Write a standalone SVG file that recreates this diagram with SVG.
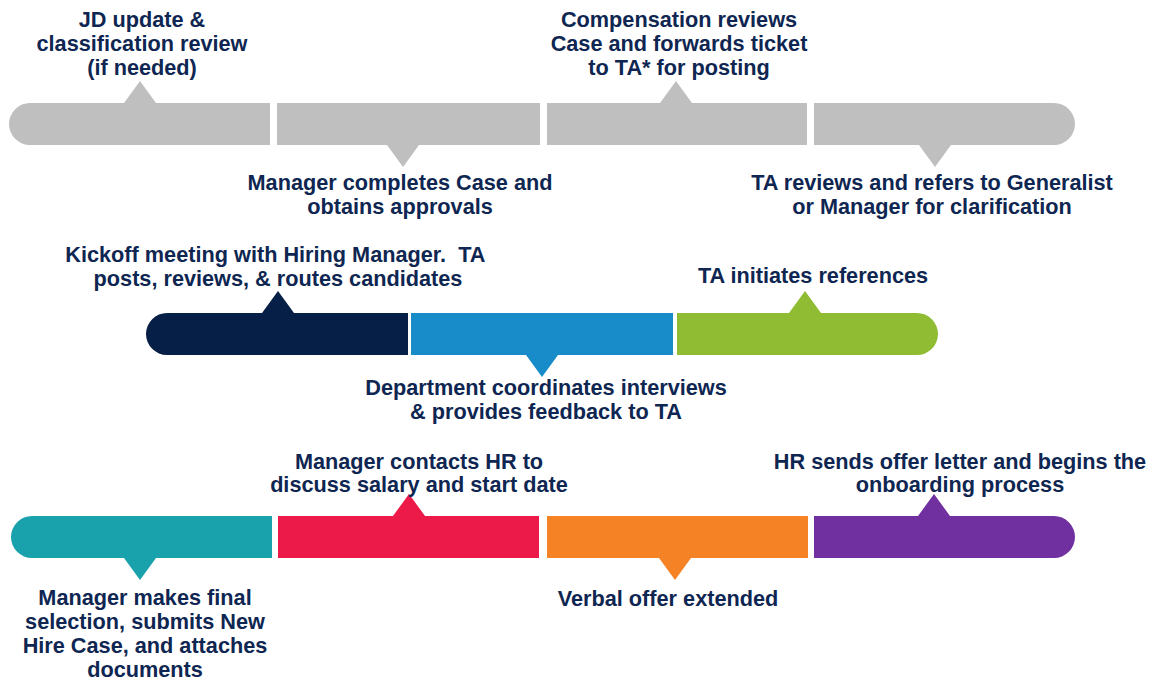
<svg xmlns="http://www.w3.org/2000/svg" width="1156" height="681" viewBox="0 0 1156 681">
  <style>
    .lbl { font-family: "Liberation Sans", Arial, sans-serif; font-weight: bold; font-size: 21.7px; fill: #0E2651; text-anchor: middle; white-space: pre; }
    .gray { fill: #BFBFBF; }
    .navy { fill: #061F46; }
    .blue { fill: #188CC9; }
    .green { fill: #8FBC32; }
    .teal { fill: #1AA2AC; }
    .red { fill: #EC1A48; }
    .orange { fill: #F58225; }
    .purple { fill: #7030A0; }
  </style>
  <rect width="1156" height="681" fill="#FFFFFF"/>

  <!-- Row 1: case preparation -->
  <g id="step-jd-update">
    <path class="gray" d="M30,103 H124 L140,81 L156,103 H270 V145 H30 A21,21 0 0 1 30,103 Z"/>
    <text class="lbl" x="142" y="27">JD update &amp;</text>
    <text class="lbl" x="142" y="51">classification review</text>
    <text class="lbl" x="142" y="75">(if needed)</text>
  </g>
  <g id="step-manager-case">
    <path class="gray" d="M277,103 H540 V145 H419 L403,167 L387,145 H277 Z"/>
    <text class="lbl" x="400" y="190">Manager completes Case and</text>
    <text class="lbl" x="400" y="214">obtains approvals</text>
  </g>
  <g id="step-compensation">
    <path class="gray" d="M547,103 H660 L676,81 L692,103 H807 V145 H547 Z"/>
    <text class="lbl" x="679" y="27">Compensation reviews</text>
    <text class="lbl" x="679" y="51">Case and forwards ticket</text>
    <text class="lbl" x="679" y="75">to TA* for posting</text>
  </g>
  <g id="step-ta-review">
    <path class="gray" d="M814,103 H1054 A21,21 0 0 1 1054,145 H951 L935,167 L919,145 H814 Z"/>
    <text class="lbl" x="932" y="190">TA reviews and refers to Generalist</text>
    <text class="lbl" x="932" y="214">or Manager for clarification</text>
  </g>

  <!-- Row 2: recruiting -->
  <g id="step-kickoff">
    <path class="navy" d="M167,313 H262 L278,291 L294,313 H408 V355 H167 A21,21 0 0 1 167,313 Z"/>
    <text class="lbl" x="278" y="262" xml:space="preserve">Kickoff meeting with Hiring Manager.  TA </text>
    <text class="lbl" x="278" y="286">posts, reviews, &amp; routes candidates</text>
  </g>
  <g id="step-interviews">
    <path class="blue" d="M411,313 H673 V355 H558 L542,377 L526,355 H411 Z"/>
    <text class="lbl" x="546" y="395">Department coordinates interviews</text>
    <text class="lbl" x="546" y="419">&amp; provides feedback to TA</text>
  </g>
  <g id="step-references">
    <path class="green" d="M677,313 H789 L805,291 L821,313 H917 A21,21 0 0 1 917,355 H677 Z"/>
    <text class="lbl" x="813" y="283">TA initiates references</text>
  </g>

  <!-- Row 3: selection and offer -->
  <g id="step-final-selection">
    <path class="teal" d="M32,516 H272 V558 H156 L140,580 L124,558 H32 A21,21 0 0 1 32,516 Z"/>
    <text class="lbl" x="145" y="605">Manager makes final</text>
    <text class="lbl" x="145" y="629">selection, submits New</text>
    <text class="lbl" x="145" y="653">Hire Case, and attaches</text>
    <text class="lbl" x="145" y="677">documents</text>
  </g>
  <g id="step-contact-hr">
    <path class="red" d="M278,516 H393 L409,494 L425,516 H539 V558 H278 Z"/>
    <text class="lbl" x="419" y="469">Manager contacts HR to</text>
    <text class="lbl" x="419" y="492">discuss salary and start date</text>
  </g>
  <g id="step-verbal-offer">
    <path class="orange" d="M547,516 H808 V558 H691 L675,580 L659,558 H547 Z"/>
    <text class="lbl" x="668" y="606">Verbal offer extended</text>
  </g>
  <g id="step-offer-letter">
    <path class="purple" d="M814,516 H918 L934,494 L950,516 H1054 A21,21 0 0 1 1054,558 H814 Z"/>
    <text class="lbl" x="960" y="469">HR sends offer letter and begins the</text>
    <text class="lbl" x="960" y="492">onboarding process</text>
  </g>

  <!-- no connectors: steps are joined edge to edge -->
  <g id="connectors"/>
</svg>
